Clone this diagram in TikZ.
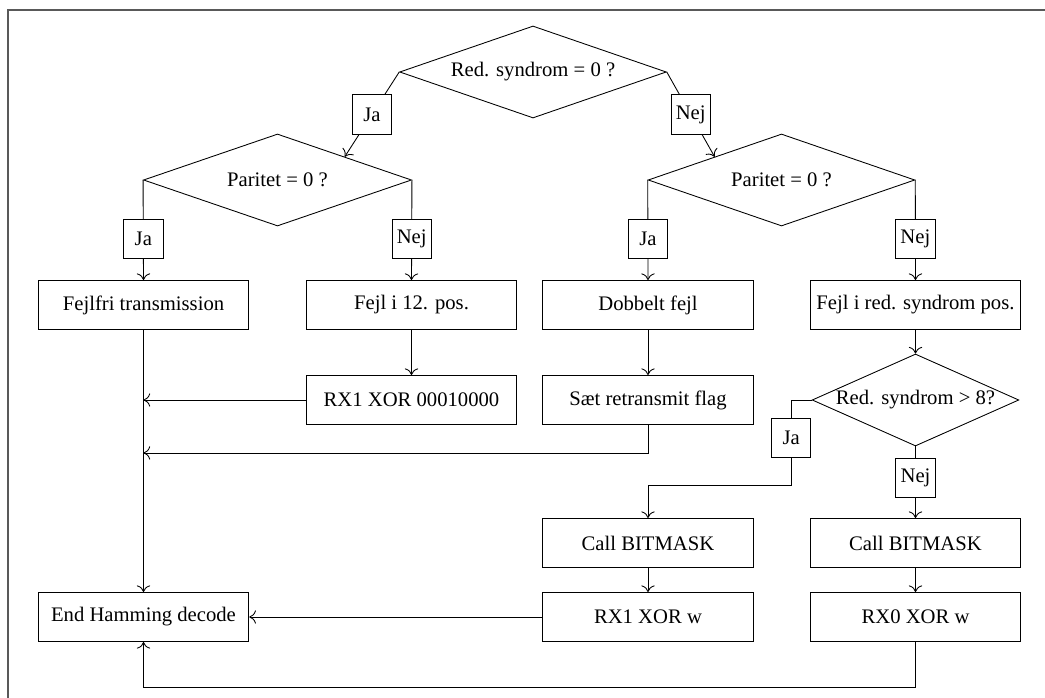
\documentclass[tikz,border=0pt]{standalone}
\usepackage{fontspec}
\setmainfont{Liberation Serif}
\usetikzlibrary{shapes.geometric,arrows.meta,calc}
\begin{document}
\begin{tikzpicture}[x=0.75pt,y=-0.75pt,
  font=\fontsize{15.5}{18}\selectfont,
  line width=0.65pt,
  >={To[length=5pt,width=10pt]},
  procbox/.style={draw,rectangle,minimum width=158pt,minimum height=36.75pt,inner sep=2pt},
  decision/.style={draw,diamond,inner sep=0pt,minimum height=69pt},
  lbl/.style={draw,fill=white,rectangle,minimum size=29.5pt,inner sep=1pt},
]
\useasboundingbox (0,0) rectangle (1045,698);
% outer frame
\draw[line width=1.3pt,gray!70!black] (8,698) -- (8,10) -- (1045,10);

% decisions
\node[decision,minimum width=200pt,aspect=2.9] (d0) at (533,72) {Red. syndrom = 0 ?};
\node[decision,minimum width=201pt,aspect=2.9] (d1) at (277.5,180) {Paritet = 0 ?};
\node[decision,minimum width=200pt,aspect=2.9] (d2) at (781.5,180) {Paritet = 0 ?};

% process boxes
\node[procbox] (fejlfri) at (143.5,305) {Fejlfri transmission};
\node[procbox] (fejl12) at (411.5,305) {Fejl i 12. pos.};
\node[procbox] (dobbelt) at (648,305) {Dobbelt fejl};
\node[procbox] (fejlred) at (915.5,305) {Fejl i red. syndrom pos.};
\node[procbox] (rx1xor) at (411.5,400) {RX1 XOR 00010000};
\node[procbox] (saet) at (648,400) {Sæt retransmit flag};
\node[decision,minimum width=155pt,aspect=2.25] (d3) at (915.5,400) {Red. syndrom > 8?};
\node[procbox] (callA) at (648,543) {Call BITMASK};
\node[procbox] (callB) at (915.5,543) {Call BITMASK};
\node[procbox] (end) at (143.5,617) {End Hamming decode};
\node[procbox] (rx1w) at (648,617) {RX1 XOR w};
\node[procbox] (rx0w) at (915.5,617) {RX0 XOR w};

% branches
\draw[->] (d0.west) -- node[lbl]{Ja} (d1.north east);
\draw[->] (d0.east) -- node[lbl]{Nej} (d2.north west);
\draw[->] (d1.west) -- node[lbl,pos=0.59]{Ja} (fejlfri.north);
\draw[->] (d1.east) -- node[lbl,pos=0.59]{Nej} (fejl12.north);
\draw[->] (d2.west) -- node[lbl,pos=0.59]{Ja} (dobbelt.north);
\draw[->] (d2.east) -- node[lbl,pos=0.59]{Nej} (fejlred.north);

% flow
\draw[->] (fejl12) -- (rx1xor);
\draw[->] (dobbelt) -- (saet);
\draw[->] (fejlred) -- (d3);
\draw[->] (rx1xor.west) -- (rx1xor.west -| fejlfri.south);
\draw[->] (saet.south) -- ++(0,28) coordinate (s1) -- (s1 -| fejlfri.south);
\draw[->] (fejlfri) -- (end);
\draw[->] (rx1w) -- (end);
\draw[->] (rx0w.south) -- ++(0,45) -| (end.south);
\draw[->] (d3.west) -- ++(-20.5,0) -- node[lbl,pos=0.45]{Ja} ++(0,85) -| (callA.north);
\draw[->] (d3.south) -- node[lbl,pos=0.44]{Nej} (callB.north);
\draw[->] (callA) -- (rx1w);
\draw[->] (callB) -- (rx0w);
\end{tikzpicture}
\end{document}
